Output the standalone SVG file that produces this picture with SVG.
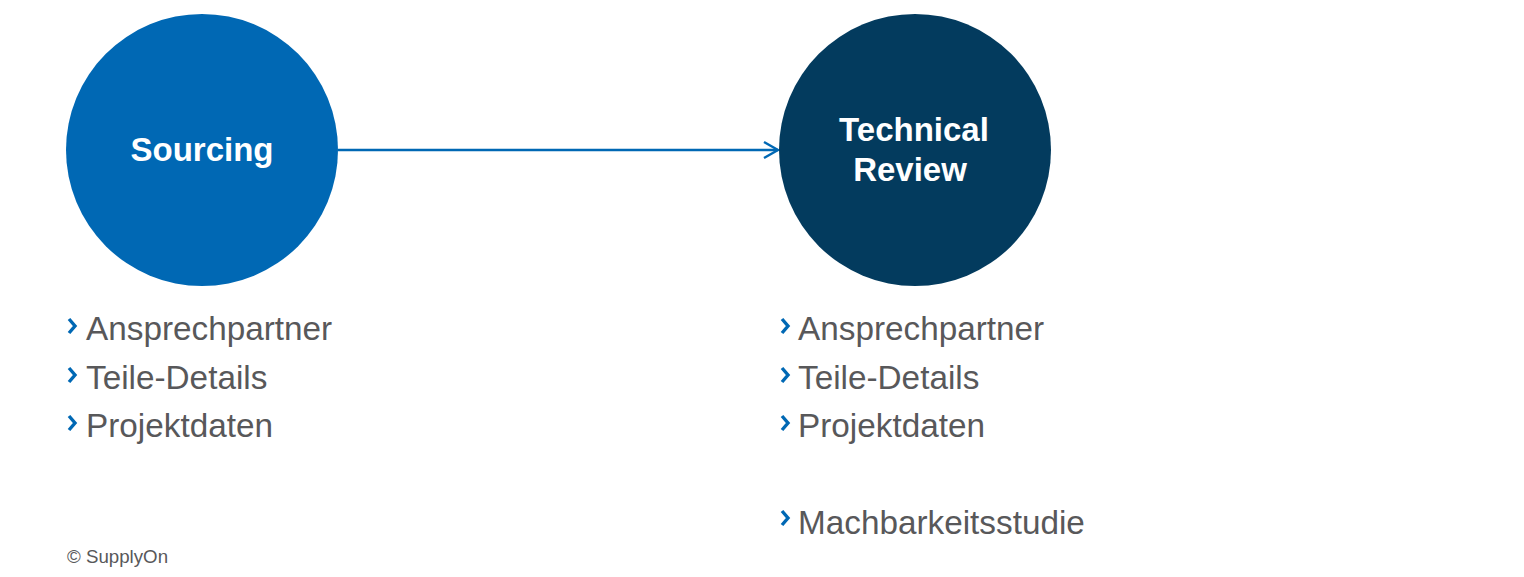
<svg xmlns="http://www.w3.org/2000/svg" width="1524" height="577" viewBox="0 0 1524 577">
<defs>
<style>
.lbl{font-family:"Liberation Sans",Arial,sans-serif;font-weight:bold;font-size:33px;fill:#ffffff;text-anchor:middle}
.item{font-family:"Liberation Sans",Arial,sans-serif;font-size:33.3px;fill:#58585a}
.chev{fill:none;stroke:#0068b4;stroke-width:3.4;stroke-linecap:butt;stroke-linejoin:miter}
.copy{font-family:"Liberation Sans",Arial,sans-serif;font-size:18.7px;fill:#58585a}
</style>
<marker id="arr" viewBox="0 0 20 20" refX="17" refY="10" markerWidth="20" markerHeight="20" markerUnits="userSpaceOnUse" orient="auto">
<path d="M3,2 L17,10 L3,18" fill="none" stroke="#0068b4" stroke-width="2.4"/>
</marker>
</defs>
<rect width="1524" height="577" fill="#ffffff"/>
<g id="connectors">
<line x1="338" y1="150" x2="778" y2="150" stroke="#0068b4" stroke-width="2.4" marker-end="url(#arr)"/>
</g>
<g id="node-sourcing">
<circle cx="202" cy="150" r="136" fill="#0068b4"/>
<text class="lbl" x="202" y="161">Sourcing</text>
</g>
<g id="node-technical-review">
<circle cx="915" cy="150" r="136" fill="#033b5e"/>
<text class="lbl" x="914" y="141">Technical</text>
<text class="lbl" x="910" y="181">Review</text>
</g>
<g id="list-sourcing">
<path class="chev" d="M69,319 L75,326 L69,333"/>
<text class="item" x="86" y="340">Ansprechpartner</text>
<path class="chev" d="M69,368 L75,375 L69,382"/>
<text class="item" x="86" y="389">Teile-Details</text>
<path class="chev" d="M69,416 L75,423 L69,430"/>
<text class="item" x="86" y="437">Projektdaten</text>
</g>
<g id="list-technical-review">
<path class="chev" d="M782,319 L788,326 L782,333"/>
<text class="item" x="798" y="340">Ansprechpartner</text>
<path class="chev" d="M782,368 L788,375 L782,382"/>
<text class="item" x="798" y="389">Teile-Details</text>
<path class="chev" d="M782,416 L788,423 L782,430"/>
<text class="item" x="798" y="437">Projektdaten</text>
<path class="chev" d="M782,511 L788,518 L782,525"/>
<text class="item" x="798" y="534">Machbarkeitsstudie</text>
</g>
<text class="copy" x="67" y="563">© SupplyOn</text>
</svg>
